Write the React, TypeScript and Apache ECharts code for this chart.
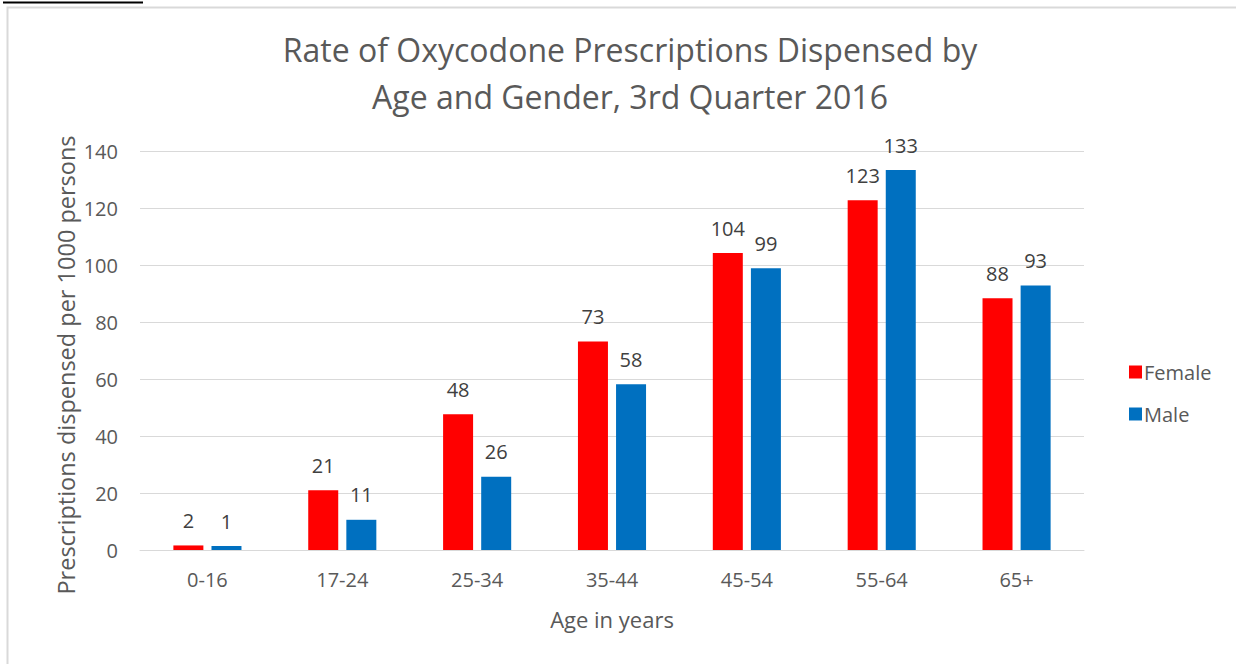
import React, { useEffect, useRef } from "react";
import * as echarts from "echarts";

const categories = ["0-16", "17-24", "25-34", "35-44", "45-54", "55-64", "65+"];
const femaleValues = [1.6, 21.0, 47.6, 73.2, 104.2, 122.7, 88.3];
const maleValues = [1.4, 10.6, 25.7, 58.2, 98.9, 133.3, 92.8];
const titleLines = ["Rate of Oxycodone Prescriptions Dispensed by", "Age and Gender, 3rd Quarter 2016"];
const yAxisTitle = "Prescriptions dispensed per 1000 persons";
const xAxisTitle = "Age in years";

const FONT = "'Open Sans', 'Noto Sans', sans-serif";

export default function App() {
  const ref = useRef<HTMLDivElement>(null);
  useEffect(() => {
    const chart = echarts.init(ref.current!, null, { renderer: "svg" });
    const labelStyle = {
      show: true,
      position: "top",
      distance: 15,
      color: "#404040",
      fontSize: 20,
      fontFamily: FONT,
      formatter: (p: any) => String(Math.round(p.value)),
    };
    chart.setOption({
      animation: false,
      backgroundColor: "#ffffff",
      title: {
        text: titleLines.join("\n"),
        left: 625,
        textAlign: "center",
        top: 21,
        textStyle: {
          color: "#595959",
          fontSize: 32,
          fontWeight: "normal",
          fontFamily: FONT,
          lineHeight: 47,
        },
      },
      legend: {
        orient: "vertical",
        left: 1124,
        top: 357,
        itemWidth: 13,
        itemHeight: 13,
        itemGap: 22,
        icon: "rect",
        textStyle: { color: "#595959", fontSize: 20, fontFamily: FONT, padding: [0, 0, 0, -3] },
        data: ["Female", "Male"],
      },
      grid: { left: 140, right: 152, top: 151, bottom: 114, containLabel: false },
      xAxis: {
        type: "category",
        data: categories,
        axisLine: { lineStyle: { color: "#d9d9d9", width: 1 } },
        axisTick: { show: false },
        axisLabel: { color: "#595959", fontSize: 20, fontFamily: FONT, margin: 19 },
        name: xAxisTitle,
        nameLocation: "middle",
        nameGap: 58,
        nameTextStyle: { color: "#595959", fontSize: 22, fontFamily: FONT },
      },
      yAxis: {
        type: "value",
        min: 0,
        max: 140,
        interval: 20,
        axisLine: { show: false },
        axisTick: { show: false },
        splitLine: { lineStyle: { color: "#d9d9d9", width: 1 } },
        axisLabel: { color: "#595959", fontSize: 20, fontFamily: FONT, margin: 22 },
      },
      graphic: [
        {
          type: "line",
          shape: { x1: 3, y1: 2.5, x2: 143, y2: 2.5 },
          style: { stroke: "#000000", lineWidth: 2 },
        },
        {
          type: "polyline",
          shape: { points: [[7.5, 664], [7.5, 7.5], [1236, 7.5]] },
          style: { stroke: "#d9d9d9", lineWidth: 2, fill: "none" },
        },
        {
          type: "text",
          x: 66,
          y: 365,
          rotation: Math.PI / 2,
          style: {
            text: yAxisTitle,
            fill: "#595959",
            fontSize: 23.5,
            fontFamily: FONT,
            align: "center",
            verticalAlign: "middle",
          },
        },
      ],
      series: [
        {
          name: "Female",
          type: "bar",
          data: femaleValues,
          itemStyle: { color: "#ff0000" },
          barWidth: 30,
          barGap: "27%",
          label: labelStyle,
        },
        {
          name: "Male",
          type: "bar",
          data: maleValues,
          itemStyle: { color: "#0070c0" },
          barWidth: 30,
          label: labelStyle,
        },
      ],
    });
    return () => chart.dispose();
  }, []);
  return (
    <div
      ref={ref}
      style={{ position: "fixed", left: 0, top: 0, width: 1236, height: 664, background: "#fff" }}
    />
  );
}
